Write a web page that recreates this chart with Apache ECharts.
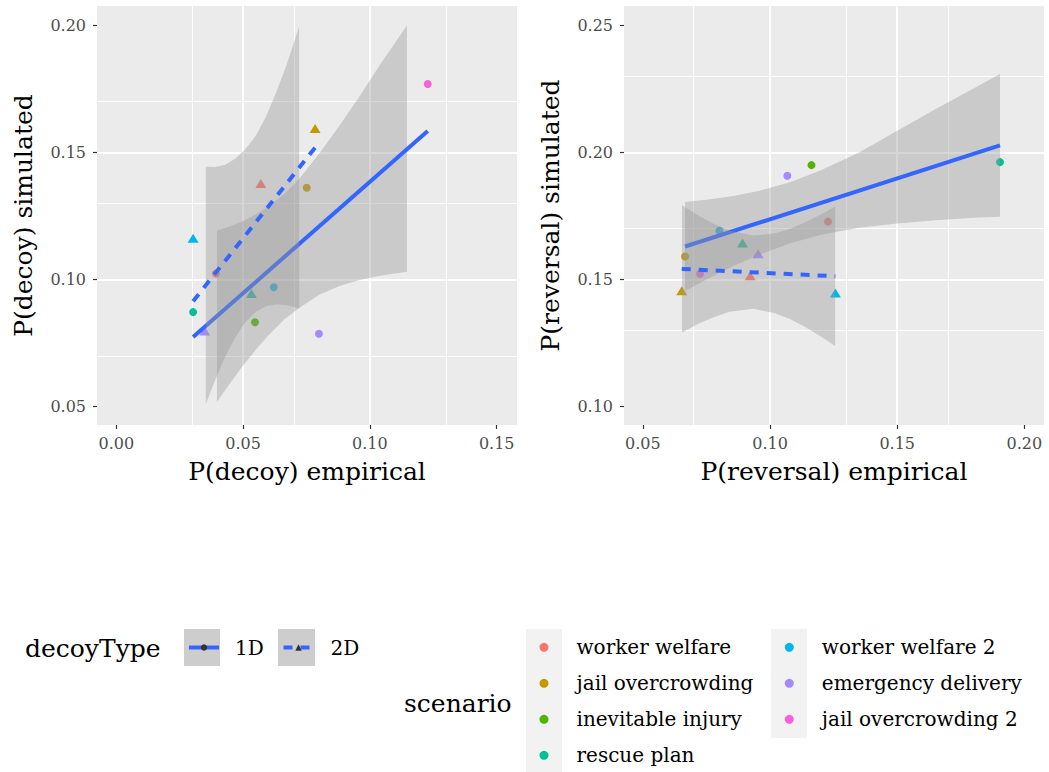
<!DOCTYPE html>
<html><head><meta charset="utf-8">
<script src="https://cdn.jsdelivr.net/npm/echarts@6/dist/echarts.min.js"></script>
<style>html,body{margin:0;padding:0;background:#fff}#c{width:1049px;height:772px}</style>
</head><body><div id="c"></div>
<script>
// ---------- data ----------
const scenarios = ['worker welfare','jail overcrowding','inevitable injury','rescue plan','worker welfare 2','emergency delivery','jail overcrowding 2'];
const scenarioColors = ['#F8766D','#C49A00','#53B400','#00C094','#00B6EB','#A58AFF','#FB61D7'];
const decoyTypes = ['1D','2D'];

// left panel: P(decoy)
const decoyEmp1D = [0.0393, 0.0751, 0.0547, 0.0303, 0.0621, 0.0799, 0.1228];
const decoySim1D = [0.1024, 0.1361, 0.0832, 0.0872, 0.0970, 0.0787, 0.1769];
const decoyEmp2D = [0.0570, 0.0784, null, 0.0533, 0.0303, 0.0349, null];
const decoySim2D = [0.1378, 0.1594, null, 0.0945, 0.1163, 0.0798, null];
// right panel: P(reversal)
const revEmp1D = [0.1228, 0.0666, 0.1163, 0.1904, 0.0801, 0.1068, 0.0725];
const revSim1D = [0.1728, 0.1591, 0.1950, 0.1962, 0.1692, 0.1908, 0.1523];
const revEmp2D = [0.0922, 0.0653, null, 0.0892, 0.1257, 0.0953, null];
const revSim2D = [0.1515, 0.1456, null, 0.1644, 0.1447, 0.1602, null];

// fitted lines
const fitDecoy1D = [[0.0303, 0.0774], [0.1228, 0.1584]];
const fitDecoy2D = [[0.0303, 0.0915], [0.0784, 0.1519]];
const fitRev1D = [[0.0666, 0.1630], [0.1904, 0.2028]];
const fitRev2D = [[0.0653, 0.1542], [0.1257, 0.1513]];

// confidence bands
const bandDecoy1DX  = [0.0397, 0.045, 0.050, 0.055, 0.060, 0.0663, 0.072, 0.080, 0.088, 0.096, 0.104, 0.1146];
const bandDecoy1DLo = [0.0519, 0.0594, 0.0662, 0.0724, 0.0781, 0.0844, 0.0887, 0.0940, 0.0975, 0.0998, 0.1015, 0.1031];
const bandDecoy1DHi = [0.1193, 0.1210, 0.1230, 0.1256, 0.1287, 0.1338, 0.1395, 0.1495, 0.1605, 0.1722, 0.1845, 0.1999];
const bandDecoy2DX  = [0.0353, 0.0390, 0.0430, 0.0470, 0.0508, 0.0550, 0.0590, 0.0630, 0.0670, 0.0721];
const bandDecoy2DLo = [0.0511, 0.0605, 0.0698, 0.0774, 0.0831, 0.0872, 0.0895, 0.0902, 0.0900, 0.0886];
const bandDecoy2DHi = [0.1445, 0.1443, 0.1452, 0.1476, 0.1512, 0.1565, 0.1640, 0.1735, 0.1840, 0.1995];
const bandRev1DX  = [0.0666, 0.075, 0.085, 0.095, 0.1079, 0.12, 0.135, 0.15, 0.165, 0.18, 0.1904];
const bandRev1DLo = [0.1455, 0.1500, 0.1550, 0.1595, 0.1643, 0.1676, 0.1704, 0.1721, 0.1733, 0.1743, 0.1747];
const bandRev1DHi = [0.1805, 0.1814, 0.1828, 0.1847, 0.1883, 0.1930, 0.2000, 0.2085, 0.2170, 0.2252, 0.2309];
const bandRev2DX  = [0.0654, 0.072, 0.078, 0.084, 0.0935, 0.102, 0.108, 0.114, 0.120, 0.1256];
const bandRev2DLo = [0.1292, 0.1327, 0.1353, 0.1373, 0.1385, 0.1368, 0.1344, 0.1312, 0.1276, 0.1239];
const bandRev2DHi = [0.1792, 0.1751, 0.1719, 0.1693, 0.1673, 0.1682, 0.1700, 0.1726, 0.1756, 0.1787];

// axes
const decoyXRange = [-0.0076, 0.158];
const decoyYRange = [0.0428, 0.2076];
const revXRange = [0.0426, 0.2077];
const revYRange = [0.0928, 0.2576];
const decoyXTicks = [0, 0.05, 0.10, 0.15];
const decoyXMinor = [0.025, 0.075, 0.125];
const decoyYTicks = [0.05, 0.10, 0.15, 0.20];
const decoyYMinor = [0.075, 0.125, 0.175];
const revXTicks = [0.05, 0.10, 0.15, 0.20];
const revXMinor = [0.075, 0.125, 0.175];
const revYTicks = [0.10, 0.15, 0.20, 0.25];
const revYMinor = [0.125, 0.175, 0.225];

// ---------- chart ----------
const F = "'DejaVu Serif', serif";
const chart = echarts.init(document.getElementById('c'), null, {renderer: 'svg'});

function mainX(g, r, ticks, name) {
  return {type: 'value', gridIndex: g, min: r[0], max: r[1], splitNumber: 3, position: 'bottom',
    axisLine: {show: false, onZero: false},
    axisTick: {show: true, length: 4, lineStyle: {color: '#333333', width: 1.2}, customValues: ticks},
    axisLabel: {customValues: ticks, formatter: v => v.toFixed(2), color: '#4D4D4D', fontFamily: F, fontSize: 16, margin: 10},
    splitLine: {show: true, showMinLine: false, showMaxLine: false, lineStyle: {color: '#ffffff', width: 2}},
    name: name, nameLocation: 'middle', nameGap: 34,
    nameTextStyle: {fontFamily: F, fontSize: 25, color: '#000000'}};
}
function mainY(g, r, ticks, name) {
  return {type: 'value', gridIndex: g, min: r[0], max: r[1], splitNumber: 3, position: 'left',
    axisLine: {show: false, onZero: false},
    axisTick: {show: true, length: 4, lineStyle: {color: '#333333', width: 1.2}, customValues: ticks},
    axisLabel: {customValues: ticks, formatter: v => v.toFixed(2), color: '#4D4D4D', fontFamily: F, fontSize: 16, margin: 11},
    splitLine: {show: true, showMinLine: false, showMaxLine: false, lineStyle: {color: '#ffffff', width: 2}},
    name: name, nameLocation: 'middle', nameGap: 61,
    nameTextStyle: {fontFamily: F, fontSize: 25, color: '#000000'}};
}
function minorGridSeries(ax, xs, ys) {
  return {type: 'scatter', name: 'minor', xAxisIndex: ax, yAxisIndex: ax, data: [], silent: true, z: 1,
    markLine: {silent: true, z: 1, symbol: 'none', animation: false, label: {show: false},
      emphasis: {disabled: true},
      lineStyle: {color: '#ffffff', width: 1, type: 'solid', opacity: 1},
      data: xs.map(v => ({xAxis: v})).concat(ys.map(v => ({yAxis: v})))}};
}
function scatterSeries(ax, emp1, sim1, emp2, sim2) {
  return scenarios.map((s, i) => {
    const data = [];
    if (emp1[i] != null) data.push({value: [emp1[i], sim1[i]], symbol: 'circle', symbolSize: 8});
    if (emp2[i] != null) data.push({value: [emp2[i], sim2[i]], symbol: 'triangle', symbolSize: [11, 9]});
    return {type: 'scatter', name: s, xAxisIndex: ax, yAxisIndex: ax, data: data, silent: true, z: 2,
      itemStyle: {color: scenarioColors[i], opacity: 1}};
  });
}
function bandSeries(ax, xs, lo, hi, z) {
  return {type: 'custom', name: 'band', xAxisIndex: ax, yAxisIndex: ax, silent: true, z: z,
    data: [[xs[0], lo[0]]],
    renderItem: (params, api) => {
      const pts = [];
      for (let i = 0; i < xs.length; i++) pts.push(api.coord([xs[i], hi[i]]));
      for (let i = xs.length - 1; i >= 0; i--) pts.push(api.coord([xs[i], lo[i]]));
      return {type: 'polygon', shape: {points: pts, smooth: 0}, style: {fill: 'rgba(153,153,153,0.4)'}};
    }};
}
function fitSeries(ax, name, pts, dashed, sym, z) {
  return {type: 'line', name: name, xAxisIndex: ax, yAxisIndex: ax, data: pts, silent: true, z: z,
    symbol: sym, showSymbol: false, itemStyle: {color: '#3366FF'},
    lineStyle: {color: '#3366FF', width: 4, type: dashed ? [9, 8] : 'solid', cap: 'butt'}};
}

const series = [].concat(
  [minorGridSeries(0, decoyXMinor, decoyYMinor), minorGridSeries(1, revXMinor, revYMinor)],
  scatterSeries(0, decoyEmp1D, decoySim1D, decoyEmp2D, decoySim2D),
  scatterSeries(1, revEmp1D, revSim1D, revEmp2D, revSim2D),
  [
    bandSeries(0, bandDecoy1DX, bandDecoy1DLo, bandDecoy1DHi, 3),
    fitSeries(0, decoyTypes[0], fitDecoy1D, false, 'circle', 4),
    bandSeries(0, bandDecoy2DX, bandDecoy2DLo, bandDecoy2DHi, 5),
    fitSeries(0, decoyTypes[1], fitDecoy2D, true, 'triangle', 6),
    bandSeries(1, bandRev1DX, bandRev1DLo, bandRev1DHi, 3),
    fitSeries(1, decoyTypes[0], fitRev1D, false, 'circle', 4),
    bandSeries(1, bandRev2DX, bandRev2DLo, bandRev2DHi, 5),
    fitSeries(1, decoyTypes[1], fitRev2D, true, 'triangle', 6)
  ]
);

const legendBase = {orient: 'vertical', padding: 0, selectedMode: false, z: 10};
const scenText = {fontFamily: F, fontSize: 20, color: '#000', lineHeight: 28, padding: [0, 0, 0, 23]};
const option = {
  animation: false,
  backgroundColor: '#ffffff',
  grid: [
    {left: 97, top: 6, width: 420, height: 419, show: true, backgroundColor: '#EBEBEB', borderWidth: 0, outerBoundsMode: 'none'},
    {left: 624, top: 6, width: 420, height: 419, show: true, backgroundColor: '#EBEBEB', borderWidth: 0, outerBoundsMode: 'none'}
  ],
  xAxis: [
    mainX(0, decoyXRange, decoyXTicks, 'P(decoy) empirical'),
    mainX(1, revXRange, revXTicks, 'P(reversal) empirical')
  ],
  yAxis: [
    mainY(0, decoyYRange, decoyYTicks, 'P(decoy) simulated'),
    mainY(1, revYRange, revYTicks, 'P(reversal) simulated')
  ],
  legend: [
    Object.assign({}, legendBase, {left: 187, top: 633.5, itemGap: 0, data: [decoyTypes[0]], itemWidth: 30, itemHeight: 8,
      itemStyle: {color: '#333333', borderWidth: 0}, lineStyle: {width: 4},
      textStyle: {fontFamily: F, fontSize: 20, color: '#000', lineHeight: 28, padding: [0, 0, 0, 11]}}),
    Object.assign({}, legendBase, {left: 281.5, top: 633.5, itemGap: 0, data: [decoyTypes[1]], itemWidth: 30, itemHeight: 8,
      itemStyle: {color: '#333333', borderWidth: 0}, lineStyle: {width: 4},
      textStyle: {fontFamily: F, fontSize: 20, color: '#000', lineHeight: 28, padding: [0, 0, 0, 12]}}),
    Object.assign({}, legendBase, {left: 539.5, top: 633.3, itemGap: 8, height: 140,
      data: scenarios.slice(0, 4).map(n => ({name: n, icon: 'circle'})),
      itemWidth: 9, itemHeight: 9, textStyle: scenText}),
    Object.assign({}, legendBase, {left: 784.8, top: 633.3, itemGap: 8, height: 140,
      data: scenarios.slice(4).map(n => ({name: n, icon: 'circle'})),
      itemWidth: 9, itemHeight: 9, textStyle: scenText})
  ],
  graphic: [
    {type: 'rect', z: 1, shape: {x: 184, y: 629, width: 36, height: 37}, style: {fill: '#CDCDCD'}},
    {type: 'rect', z: 1, shape: {x: 278, y: 629, width: 37, height: 37}, style: {fill: '#CDCDCD'}},
    {type: 'rect', z: 1, shape: {x: 526, y: 629, width: 36, height: 145}, style: {fill: '#F2F2F2'}},
    {type: 'rect', z: 1, shape: {x: 771, y: 629, width: 36, height: 109}, style: {fill: '#F2F2F2'}},
    {type: 'text', z: 5, x: 25, y: 648, style: {text: 'decoyType', fontFamily: F, fontSize: 25, fill: '#000', verticalAlign: 'middle'}},
    {type: 'text', z: 5, x: 404, y: 703, style: {text: 'scenario', fontFamily: F, fontSize: 25, fill: '#000', verticalAlign: 'middle'}}
  ],
  series: series
};
chart.setOption(option);
</script>
</body></html>
